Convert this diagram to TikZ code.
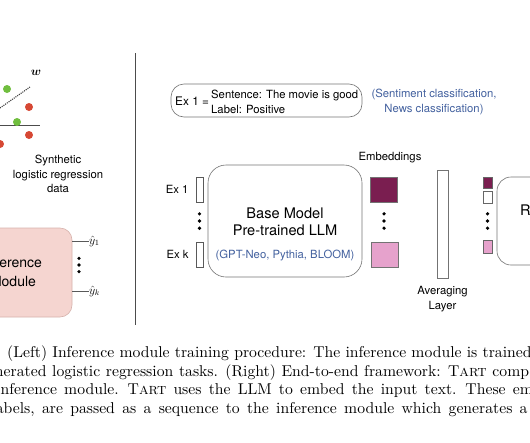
\documentclass[tikz,border=0pt]{standalone}
\usepackage{bm}
\usepackage{fontspec}
\setsansfont{TeX Gyre Heros}
\newfontfamily\capfont{lmroman10-regular.otf}[SmallCapsFont=lmromancaps10-regular.otf]
\usepackage{tikz}
\usetikzlibrary{positioning}
\definecolor{plum}{RGB}{122, 30, 80}
\definecolor{orchid}{RGB}{230, 162, 204}
\definecolor{infpink}{RGB}{245, 213, 208}
\definecolor{infedge}{RGB}{214, 178, 172}
\definecolor{capblue}{RGB}{66, 96, 158}
\definecolor{ptgreen}{RGB}{112, 190, 62}
\definecolor{ptred}{RGB}{214, 72, 52}
\tikzstyle{textonly} = [draw=none, fill=none, inner sep=0pt, align=center, font=\sffamily\fontsize{11.3}{14.5}\selectfont]
\tikzstyle{captext} = [draw=none, fill=none, inner sep=0pt, anchor=base west, font=\capfont\fontsize{15.7}{19}\selectfont]
\tikzstyle{gpt} = [circle, fill=ptgreen, inner sep=0pt, minimum size=8pt]
\tikzstyle{rpt} = [circle, fill=ptred, inner sep=0pt, minimum size=8pt]
\tikzstyle{dot} = [circle, fill=black, inner sep=0pt, minimum size=3.6pt]
\tikzstyle{tok} = [draw=black!65, line width=0.6pt, inner sep=0pt, minimum width=7pt, minimum height=25pt]
\tikzstyle{emb} = [draw=black!55, line width=0.6pt, inner sep=0pt, minimum width=27pt, minimum height=25pt]
\tikzstyle{seq} = [draw=black!60, line width=0.6pt, inner sep=0pt, minimum width=9pt, minimum height=12pt]
\tikzstyle{module} = [draw=black!55, line width=0.6pt, rounded corners=14pt, inner sep=0pt]

\begin{document}
\begin{tikzpicture}[x=1pt, y=-1pt, auto]
\useasboundingbox (0,0) rectangle (530,442);
\clip (0,0) rectangle (530,442);

% left panel =============================

% synthetic data
\coordinate (wa) at (0,108);
\coordinate (wb) at (30,87);
\draw[black!75, line width=1.1pt, densely dotted] (wa) -- (wb);
\node[textonly, font=\fontsize{12}{14}\selectfont] (w) at (36,73) {$\bm{w}$};
\coordinate (axl) at (0,125.5);
\coordinate (axr) at (40,125.5);
\draw[black!70, line width=0.9pt] (axl) -- (axr);
\node[gpt] (g1) at (7,89) {};
\node[gpt] (g2) at (17,122) {};
\node[rpt] (r1) at (29,107) {};
\node[rpt] (r2) at (29,135) {};
\node[rpt] (r3) at (0,144) {};

\node[textonly] (synth) at (58,174) {Synthetic\\logistic regression\\data};

% inference module
\node[module, draw=infedge, fill=infpink, rounded corners=12pt, minimum width=118pt, minimum height=89pt] (inf) at (13,272.5) {};
\node[textonly, font=\sffamily\fontsize{14}{19}\selectfont] (inftext) at (13,272) {Inference\\Module};

\node[textonly, anchor=west, font=\fontsize{11.5}{13}\selectfont] (y1) at (89,241) {$\hat{y}_1$};
\node[textonly, anchor=west, font=\fontsize{11.5}{13}\selectfont] (yk) at (89,291) {$\hat{y}_k$};
\draw[black!65, line width=0.7pt] (inf.east |- y1) -- (y1.west);
\draw[black!65, line width=0.7pt] (inf.east |- yk) -- (yk.west);

\node[dot] (ym) at (79,265) {};
\node[dot, above=2.6pt of ym] (yt) {};
\node[dot, below=2.6pt of ym] (yb) {};

% separator
\coordinate (septop) at (135,53);
\coordinate (sepbot) at (135,325);
\draw[black!70, line width=0.8pt] (septop) -- (sepbot);

% right panel ============================

% example definition
\node[module, rounded corners=13pt, minimum width=191pt, minimum height=33pt] (exdef) at (266.5,100.5) {};
\node[textonly, anchor=west, font=\sffamily\fontsize{11.8}{14.5}\selectfont] (exeq) at (175,101) {Ex 1 =};
\node[textonly, anchor=west, align=left, font=\sffamily\fontsize{11.3}{15}\selectfont] (exsent) at (211,101.5) {Sentence: The movie is good\\Label: Positive};
\node[textonly, text=capblue, font=\sffamily\fontsize{11.3}{14.5}\selectfont] (tasks) at (434,102) {(Sentiment classification,\\News classification)};

% inputs
\node[tok] (ex1) at (199.5,189.5) {};
\node[tok] (exk) at (199.5,254.5) {};
\node[textonly, left=7pt of ex1] (ex1lab) {Ex 1};
\node[textonly, left=7pt of exk] (exklab) {Ex k};
\node[dot] (em) at (199.5,221) {};
\node[dot, above=3.2pt of em] (et) {};
\node[dot, below=3.2pt of em] (eb) {};

% base model
\node[module, rounded corners=18pt, minimum width=154pt, minimum height=112pt] (llm) at (285,221) {};
\node[textonly, font=\sffamily\fontsize{14.6}{17}\selectfont] (llmtext) at (285,221.5) {Base Model\\Pre-trained LLM};
\node[textonly, text=capblue] (llmex) at (285,256) {(GPT-Neo, Pythia, BLOOM)};

% embeddings
\node[emb, fill=plum] (emb1) at (383.5,189.5) {};
\node[emb, fill=orchid] (embk) at (384.5,255) {};
\node[textonly] (embtext) at (390,158) {Embeddings};
\node[dot] (bm) at (384,221) {};
\node[dot, above=3.2pt of bm] (bt) {};
\node[dot, below=3.2pt of bm] (bb) {};

% averaging layer
\node[emb, minimum width=11pt, minimum height=108pt] (avg) at (442.5,224) {};
\node[textonly, below=8pt of avg] (avgtext) {Averaging\\Layer};

% sequence for the inference module
\node[seq, fill=plum, minimum height=11pt] (s1) at (487.5,182.5) {};
\node[seq, fill=white] (s2) at (487.5,197) {};
\node[seq, fill=orchid, minimum height=13pt] (sk) at (487.5,246.5) {};
\node[dot] (sm) at (487.5,221) {};
\node[dot, above=3.2pt of sm] (st) {};
\node[dot, below=3.2pt of sm] (sb) {};

\node[module, minimum width=130pt, minimum height=88pt] (reason) at (562,221) {};
\node[textonly, anchor=west, font=\sffamily\fontsize{14.6}{17}\selectfont] (reasontext) at (520,212) {Reasoning};

% caption ================================
\node[captext] (cap1) at (7,357.5) {(Left) Inference module training procedure: The inference module is trained on synthetically};
\node[captext] (cap2) at (3.5,376) {\spaceskip=5.7pt\relax\llap{gen}erated logistic regression tasks. (Right) End-to-end framework: T\textsc{art} composes an};
\node[captext] (cap3) at (0.5,394.5) {\spaceskip=7.2pt\relax\llap{i}nference module. T\textsc{art} uses the LLM to embed the input text. These embeddings};
\node[captext] (cap4) at (3.5,413) {\spaceskip=7.3pt\relax\llap{la}bels, are passed as a sequence to the inference module which generates a final};

\end{tikzpicture}
\end{document}
